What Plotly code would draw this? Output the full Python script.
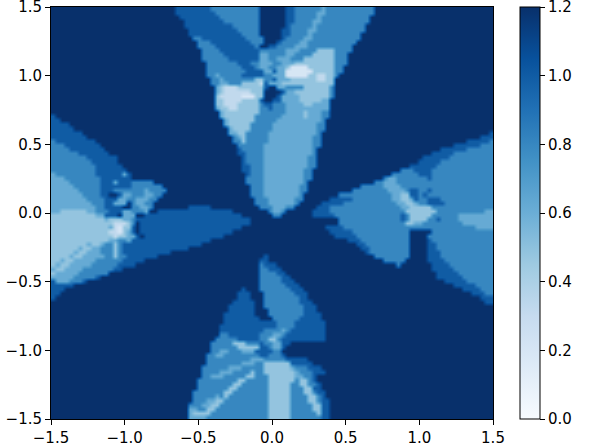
import plotly.graph_objects as go

# value of each shade in the picture
levels = {"D": 1.2, "C": 1.0, "B": 0.8, "A": 0.62, "a": 0.48, "L": 0.32, "W": 0.2}

# matplotlib Blues
blues = ["#f7fbff", "#deebf7", "#c6dbef", "#9ecae1", "#6baed6", "#4292c6", "#2171b5", "#08519c", "#08306b"]

tick_vals = [-1.5, -1.0, -0.5, 0.0, 0.5, 1.0, 1.5]
bar_ticks = [0.0, 0.2, 0.4, 0.6, 0.8, 1.0, 1.2]

# one string per grid row, top row first: shade letter + column where that run stops
rows = [
    "D28 C36 B47 D53 C55 B61 A62 B73 D100",
    "D28 C37 B47 D53 C55 B60 A62 B73 D100",
    "D29 C38 B47 D53 C55 B60 A61 B72 D100",
    "D30 C39 B47 D53 C55 B59 A61 B72 D100",
    "D30 C41 B47 D53 C54 B59 A60 B71 D100",
    "D31 C42 B47 D52 C54 B58 A60 B71 D100",
    "D31 C43 B47 D52 C54 B58 A59 B70 D100",
    "D32 B34 C44 B48 D52 C53 B57 A59 B70 D100",
    "D33 B36 C45 B48 D51 C52 B56 A58 B69 D100",
    "D33 B37 C46 B47 D49 C51 B55 A58 B68 D100",
    "D34 B38 C47 B53 A56 B60 a64 B68 D100",
    "D34 B39 C47 A49 B53 A55 B59 a64 B67 D100",
    "D34 B40 C47 A49 B51 A54 B57 a64 B67 D100",
    "D35 B42 C45 B47 A50 B52 A55 a64 B67 D100",
    "D35 B43 C46 B47 A49 B51 A53 a54 W58 a64 B66 D100",
    "D35 B44 C48 A50 C51 A53 W59 a64 B66 D100",
    "D35 B37 A38 B43 C48 B50 A53 W58 a60 L62 a64 B65 D100",
    "D36 B38 A39 B46 a48 B50 C51 A54 a60 L62 a64 D100",
    "D36 B38 A40 B43 a47 L48 C49 A52 a64 D100",
    "D37 A38 a39 L42 a48 C49 D51 A53 B57 a63 B64 D100",
    "D37 A38 a39 L45 a48 D52 C53 A55 a63 B64 D100",
    "D37 a38 L43 W46 a48 D51 C52 A56 a63 B64 D100",
    "D37 a39 L43 a47 C48 D50 C52 A56 a61 A63 D100",
    "D37 a39 L42 a47 B48 C50 B53 A57 a59 A63 D100",
    "D37 A38 a40 L42 a47 B49 C50 B53 A63 D100",
    "D38 A39 a47 B53 A57 a58 A61 B63 D100",
    "C1 D38 A39 a46 B52 A57 a58 A61 B63 D100",
    "C2 D39 A40 a46 B51 A61 B62 D100",
    "C4 D39 A40 a45 B50 A60 B62 D100",
    "C5 D40 A41 a45 B50 A60 B62 D100",
    "C7 D40 A42 a44 B49 A60 B61 D99 C100",
    "C8 D41 B42 A43 a44 B49 A59 B61 D97 C100",
    "B1 C10 D41 B43 a44 B49 A59 B61 D94 C99 B100",
    "B3 C11 D42 B48 A59 B61 D91 C97 B100",
    "B4 C12 D42 C43 B48 A59 B60 D88 C94 B100",
    "B6 C13 D42 C44 B48 A59 B60 D86 C91 B100",
    "B8 C15 D43 C44 B48 A58 B60 D84 C90 B100",
    "B9 C15 D43 C44 B48 A58 B60 D83 C88 B100",
    "B10 C16 D43 C45 B48 A58 B60 D81 C87 B100",
    "B10 C17 D43 C45 B48 A57 B59 D79 B82 C86 B100",
    "A1 B10 C16 A17 C18 D44 C45 B48 A57 B59 D77 B83 C86 B100",
    "A3 B11 C18 D44 B48 A57 B59 D75 B76 A78 B85 C86 B100",
    "A4 B11 C14 A15 C18 B23 D44 B48 A57 B58 D73 B75 A78 B100",
    "A5 B11 C18 B25 D45 B48 A56 B58 D70 B75 A79 B100",
    "A6 B11 C14 B21 A22 B26 D45 B48 A56 B58 D68 B76 A80 B81 C83 B85 C86 B100",
    "A7 B11 C13 D15 C16 A18 B21 A23 B25 D45 B48 A56 B57 D65 B77 A79 a81 C83 B84 C85 B100",
    "A8 B12 C15 A17 B19 A22 B24 D46 B49 A55 B57 D63 C68 B77 A79 a81 A82 C83 B85 C88 B100",
    "A9 B12 C14 A17 D18 B19 A21 B23 D46 B49 A55 B56 D61 C66 B78 A80 a82 A83 B85 C89 B100",
    "A10 B12 C16 D18 B20 A22 B23 D31 C36 D47 B50 A53 B55 D60 C63 B79 A81 a86 B100",
    "A2 a8 A10 B13 C16 A18 B21 A22 D24 C41 D49 B50 A52 B53 D59 C63 B80 a87 B98 A100",
    "a10 A12 C15 D16 A19 D21 C43 D50 B52 D59 C64 B79 C80 B81 a86 B92 A100",
    "a12 A13 a16 A18 B19 C45 D65 B79 C80 B81 a85 B87 C88 B92 A100",
    "a14 L17 a18 B19 D20 C45 D65 B80 a82 A84 B93 A100",
    "a13 A14 L15 W16 a18 C19 D20 C43 D62 C66 B96 A100",
    "a13 L15 W16 a17 A18 C19 D20 C41 D63 C68 B81 D86 B100",
    "a14 L15 a17 A19 C20 D21 C39 D64 C69 B81 D85 B100",
    "a13 A15 B17 A18 C36 D67 C70 B81 D85 C86 B100",
    "a8 A9 a11 A12 B14 a15 B16 C34 D69 C71 B81 D85 C87 B100",
    "a6 A7 a9 A11 B14 a15 B16 C31 D70 C72 B81 D85 C87 B100",
    "a5 A6 a8 A11 B14 a15 B16 C27 D71 C72 B81 D85 C88 B100",
    "a4 A5 a7 A12 B14 a15 B17 C24 D48 C49 D73 B81 D85 C88 B100",
    "a2 A3 a5 A10 B16 C21 D47 C49 D75 B80 D85 C89 B100",
    "a1 A2 a4 A9 B15 C19 D47 B48 C51 D78 B79 D86 C90 B100",
    "A1 a3 A7 B14 C16 D47 B49 C52 D86 C91 B100",
    "a1 A6 B13 D47 B51 C53 D87 C92 B100",
    "A5 B10 C11 D47 B52 C54 D87 C93 B100",
    "C1 A4 B7 C8 D47 B52 C55 D89 C94 B100",
    "C5 D47 B53 C56 D91 C96 B100",
    "C3 D43 C44 D47 B54 C57 D93 C97 B100",
    "C2 D42 C45 D48 B55 C58 D95 C98 B100",
    "C1 D42 C45 D48 B56 C58 D97 C100",
    "D41 C46 D48 B56 C59 D98 C100",
    "D40 C46 D48 B57 C60 D100",
    "D40 C46 D49 B57 C60 D100",
    "D39 C46 D49 B57 C61 D100",
    "D39 C47 D50 B56 C61 D100",
    "D39 C51 B55 C62 D100",
    "D38 C51 B55 C62 D100",
    "D38 C48 B52 A53 B54 C62 D100",
    "D38 B40 C47 B50 A52 B53 C62 D100",
    "D37 B42 C47 B49 a51 B52 C62 D100",
    "D36 B41 a44 B47 C48 B50 A52 C54 D100",
    "D36 B42 a47 C49 B50 A52 C53 D100",
    "D36 B38 A40 B43 A46 C50 B52 D100",
    "D35 B37 A39 B47 C49 B52 C53 D100",
    "D35 B45 A48 B53 C58 D100",
    "D35 B43 A46 B48 a54 C59 D100",
    "D34 B40 A43 B48 a54 A55 B58 C61 D100",
    "D34 B38 A41 B45 a46 B48 a55 A56 B59 C62 D100",
    "D34 B36 A39 B44 a46 B49 a55 A57 B59 C60 D100",
    "D33 B42 a44 B49 a55 B56 a58 B59 C60 D100",
    "D33 B41 a43 B49 a54 B56 a58 B60 C61 D100",
    "D33 B40 a42 B49 a54 B57 a59 C61 D100",
    "D32 B39 a41 B49 a54 B57 a59 B60 C62 D100",
    "D32 B37 A38 B39 a40 B49 a54 B58 a60 B61 C62 D100",
    "D32 B35 A37 a39 B49 a54 B58 a60 B61 C63 D100",
    "D31 B34 A36 a38 B49 a54 B59 a61 C63 D100",
    "D31 A33 B35 a37 B49 a54 B59 a61 C63 D100",
    "D31 A32 a36 B49 a54 B60 a61 C63 D100",
    "D31 A35 B49 a54 B61 C63 D100",
]


def expand_row(row):
    cells = []
    for run in row.split():
        cells += [levels[run[0]]] * (int(run[1:]) - len(cells))
    return cells


z = [expand_row(row) for row in rows]

fig = go.Figure(
    go.Heatmap(
        z=z,
        x0=-1.485,
        dx=0.03,
        y0=1.485,
        dy=-0.03,
        zmin=0,
        zmax=1.2,
        zsmooth="best",
        colorscale=blues,
        hoverinfo="skip",
        colorbar=dict(
            x=1.0618,
            xanchor="left",
            xpad=0,
            y=0.5,
            yanchor="middle",
            ypad=0,
            len=1,
            thickness=20,
            outlinewidth=1,
            outlinecolor="black",
            tickvals=[v - 1e-6 if v == 1.2 else v for v in bar_ticks],
            ticktext=[f"{v:.1f}" for v in bar_ticks],
            ticks="outside",
            ticklen=5,
            tickwidth=1,
            tickcolor="black",
            ticklabeloverflow="allow",
        ),
    )
)

axis_style = dict(
    range=[-1.5, 1.5],
    tickvals=tick_vals,
    tickformat=".1f",
    ticks="outside",
    ticklen=5,
    tickwidth=1,
    tickcolor="black",
    ticklabeloverflow="allow",
    showline=True,
    linewidth=1,
    linecolor="black",
    mirror=True,
    showgrid=False,
    zeroline=False,
    automargin=False,
)
fig.update_xaxes(**axis_style)
fig.update_yaxes(**axis_style)

fig.update_layout(
    width=598,
    height=448,
    margin=dict(l=51, r=105, t=7, b=29),
    paper_bgcolor="white",
    plot_bgcolor="white",
    font=dict(family="DejaVu Sans", size=15, color="black"),
)

# the page has a default body margin that would push the figure away from the corner
fig.write_html(
    "out.html",
    config={"displayModeBar": False},
    post_script="document.body.style.margin = '0';",
)
